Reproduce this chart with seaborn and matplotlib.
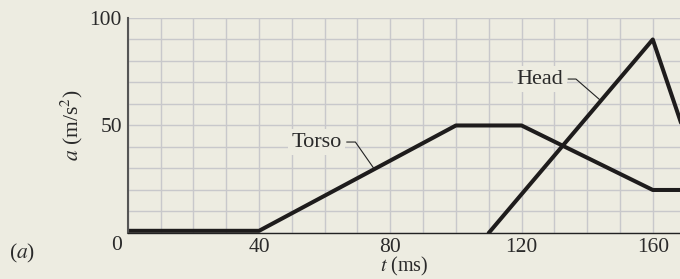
import numpy as np
import pandas as pd
import matplotlib
matplotlib.use("Agg")
import matplotlib.pyplot as plt
import seaborn as sns

# acceleration curves (t in ms, a in m/s^2)
torso_t = [0, 40, 100, 120, 160, 180]
torso_a = [1, 1, 50, 50, 20, 20]
head_t = [110, 160, 180]
head_a = [0, 90, 0]

x_ticks = [40, 80, 120, 160]
y_ticks = [50, 100]

bg = "#edece1"
ink = "#2a2a2a"
fs = 15.5

sns.set_style("white")
plt.rcParams["font.family"] = ["Liberation Serif", "DejaVu Serif"]
plt.rcParams["mathtext.fontset"] = "stix"

torso = pd.DataFrame({"t": torso_t, "a": torso_a, "part": "Torso"})
head = pd.DataFrame({"t": head_t, "a": head_a, "part": "Head"})
df = pd.concat([torso, head], ignore_index=True)

fig = plt.figure(figsize=(6.8, 2.79), dpi=100, facecolor=bg)
ax = fig.add_axes([0.188, 0.165, 0.812, 0.7705])
ax.set_facecolor(bg)

sns.lineplot(data=df, x="t", y="a", hue="part", palette=["#1e1c1c", "#1e1c1c"],
             linewidth=2.9, legend=False, ax=ax, sort=False, estimator=None,
             units="part")

ax.set_xlim(0, 168.3)
ax.set_ylim(0, 100)
ax.set_xticks(x_ticks)
ax.set_yticks(y_ticks)
ax.set_xticks(np.arange(0, 170, 10), minor=True)
ax.set_yticks(np.arange(0, 101, 10), minor=True)
ax.grid(which="both", color="#c8c8cb", linewidth=1.0)
ax.set_axisbelow(True)
ax.tick_params(which="both", length=0, labelsize=fs, colors=ink)
ax.tick_params(axis="x", pad=3.5)
ax.tick_params(axis="y", pad=4.3)

for side in ["top", "right"]:
    ax.spines[side].set_visible(False)
ax.spines["left"].set_color("#555555")
ax.spines["left"].set_linewidth(1.5)
ax.spines["bottom"].set_color("#222222")
ax.spines["bottom"].set_linewidth(1.0)

ax.set_xlabel("$t$ (ms)", fontsize=14.5, labelpad=-1, color=ink)
ax.set_ylabel("$a$ (m/s$^2$)", fontsize=fs, labelpad=3, color=ink)

# shared origin label
ax.annotate("0", xy=(0, 0), xytext=(-11, -13), textcoords="offset pixels",
            ha="center", va="center", fontsize=fs, color=ink)

box = dict(boxstyle="square,pad=0.15", facecolor=bg, edgecolor="none")
ax.annotate("Torso", xy=(75, 30), xytext=(57.6, 42.3), ha="center", va="center",
            fontsize=16, color=ink, bbox=box,
            arrowprops=dict(arrowstyle="-", color="#222222", lw=0.8,
                            connectionstyle="angle,angleA=0,angleB=-55,rad=0",
                            relpos=(1, 0.5), shrinkA=1, shrinkB=0))
ax.annotate("Head", xy=(144.2, 61.5), xytext=(125.6, 71.6), ha="center", va="center",
            fontsize=16, color=ink, bbox=box,
            arrowprops=dict(arrowstyle="-", color="#222222", lw=0.8,
                            connectionstyle="angle,angleA=0,angleB=-41,rad=0",
                            relpos=(1, 0.5), shrinkA=1, shrinkB=0))

fig.text(22 / 680, 1 - 253 / 279, "($a$)", fontsize=fs, ha="center", va="center",
         color=ink)

fig.savefig("out.png", dpi=100, facecolor=bg)
